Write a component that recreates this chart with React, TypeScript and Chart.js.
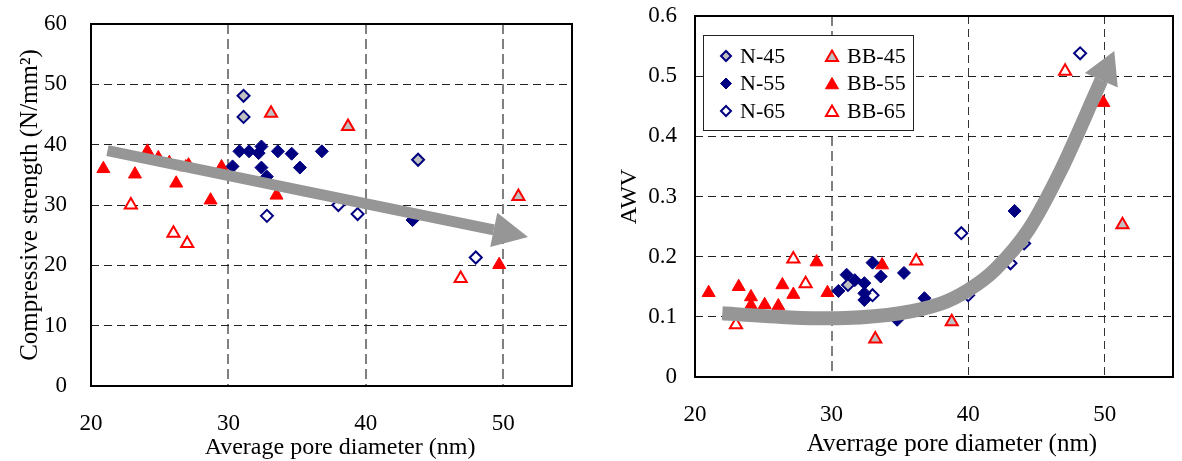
import React, { useEffect, useRef } from 'react';
import { Chart, registerables } from 'chart.js';

Chart.register(...registerables);

const FONT = "'Liberation Serif', 'Times New Roman', Times, serif";

// ---- axes ----
const X_MIN = 20;
const X_MAX = 55;
const X_TICKS = [20, 30, 40, 50];
const LEFT_Y_TICKS = [0, 10, 20, 30, 40, 50, 60];
const LEFT_Y_LABELS = ['0', '10', '20', '30', '40', '50', '60'];
const RIGHT_Y_TICKS = [0, 0.1, 0.2, 0.3, 0.4, 0.5, 0.6];
const RIGHT_Y_LABELS = ['0', '0.1', '0.2', '0.3', '0.4', '0.5', '0.6'];

const SERIES_NAMES = ['N-45', 'N-55', 'N-65', 'BB-45', 'BB-55', 'BB-65'];

// ---- left chart: compressive strength ----
const N45_L_X = [31.1, 31.1, 43.8];
const N45_L_Y = [48.1, 44.6, 37.5];
const N55_L_X = [30.3, 30.8, 31.5, 32.2, 32.4, 32.4, 32.8, 33.6, 34.6, 35.2, 36.8, 43.4];
const N55_L_Y = [36.4, 38.9, 38.9, 38.6, 39.7, 36.2, 34.7, 38.9, 38.5, 36.2, 38.9, 27.5];
const N65_L_X = [32.8, 38.0, 39.4, 48.0];
const N65_L_Y = [28.2, 30.0, 28.5, 21.3];
const BB45_L_X = [33.1, 38.7, 51.1];
const BB45_L_Y = [45.2, 43.0, 31.4];
const BB55_L_X = [20.9, 23.2, 24.1, 24.9, 25.7, 26.2, 26.9, 27.1, 28.7, 29.5, 33.5, 49.7];
const BB55_L_Y = [36.0, 35.1, 38.9, 37.8, 37.0, 33.6, 36.3, 36.6, 30.8, 36.3, 31.6, 20.1];
const BB65_L_X = [22.9, 26.0, 27.0, 46.9];
const BB65_L_Y = [30.0, 25.3, 23.6, 17.8];
const LEFT_ARROW_X = [21.2, 51.8];
const LEFT_ARROW_Y = [39.0, 24.7];

// ---- right chart: AWV ----
const N45_R_X = [31.2, 44.1];
const N45_R_Y = [0.153, 0.222];
const N55_R_X = [30.5, 31.1, 31.7, 32.4, 33.0, 33.6, 32.4, 32.4, 35.3, 36.8, 34.8, 43.4];
const N55_R_Y = [0.143, 0.170, 0.161, 0.156, 0.190, 0.167, 0.139, 0.128, 0.173, 0.131, 0.095, 0.276];
const N65_R_X = [33.0, 39.5, 40.0, 43.1, 48.2];
const N65_R_Y = [0.136, 0.239, 0.136, 0.189, 0.538];
const BB45_R_X = [33.2, 38.8, 51.3];
const BB45_R_Y = [0.063, 0.092, 0.253];
const BB55_R_X = [21.0, 23.2, 24.1, 24.1, 25.1, 26.1, 26.4, 27.2, 28.9, 29.7, 33.7, 49.9];
const BB55_R_Y = [0.140, 0.150, 0.133, 0.119, 0.120, 0.118, 0.153, 0.137, 0.191, 0.140, 0.186, 0.456];
const BB65_R_X = [23.0, 27.2, 28.1, 36.2, 47.1];
const BB65_R_Y = [0.087, 0.196, 0.155, 0.193, 0.508];
const RIGHT_ARROW_X = [22.0, 27.0, 31.0, 35.0, 38.0, 40.05, 42.0, 44.4, 46.8, 49.2, 50.7];
const RIGHT_ARROW_Y = [0.106, 0.099, 0.098, 0.106, 0.122, 0.145, 0.179, 0.244, 0.344, 0.465, 0.542];

// ---- styles ----
const NAVY = '#000080';
const RED = '#FF0000';
const GREY = '#C0C0C0';
const ARROW = '#969696';
const STYLES: Record<string, any> = {
  'N-45': { pointStyle: 'rectRot', bg: GREY, border: NAVY, bw: 2, r: 6, lr: 5 },
  'N-55': { pointStyle: 'rectRot', bg: NAVY, border: NAVY, bw: 1, r: 6.5, lr: 5.5 },
  'N-65': { pointStyle: 'rectRot', bg: '#FFFFFF', border: NAVY, bw: 2, r: 6, lr: 5 },
  'BB-45': { pointStyle: 'triangle', bg: GREY, border: RED, bw: 2, r: 7, lr: 7 },
  'BB-55': { pointStyle: 'triangle', bg: RED, border: RED, bw: 1, r: 7.5, lr: 7.5 },
  'BB-65': { pointStyle: 'triangle', bg: '#FFFFFF', border: RED, bw: 2, r: 7, lr: 7 },
};

const zip = (xs: number[], ys: number[]) => xs.map((x, i) => ({ x, y: ys[i] }));

function buildDatasets(pairs: [number[], number[]][]) {
  return SERIES_NAMES.map((name, i) => {
    const s = STYLES[name];
    return {
      label: name,
      data: zip(pairs[i][0], pairs[i][1]),
      pointStyle: s.pointStyle,
      backgroundColor: s.bg,
      borderColor: s.border,
      borderWidth: s.bw,
      pointRadius: s.r,
      pointHoverRadius: s.r,
    };
  });
}

function drawMarker(ctx: CanvasRenderingContext2D, style: string, x: number, y: number, r: number, bg: string, border: string, bw: number) {
  ctx.save();
  ctx.beginPath();
  if (style === 'rectRot') {
    ctx.moveTo(x - r, y);
    ctx.lineTo(x, y - r);
    ctx.lineTo(x + r, y);
    ctx.lineTo(x, y + r);
  } else {
    for (let k = 0; k < 3; k++) {
      const a = (k * 2 * Math.PI) / 3;
      const px = x + Math.sin(a) * r;
      const py = y - Math.cos(a) * r;
      if (k === 0) ctx.moveTo(px, py);
      else ctx.lineTo(px, py);
    }
  }
  ctx.closePath();
  ctx.fillStyle = bg;
  ctx.fill();
  ctx.lineWidth = bw;
  ctx.strokeStyle = border;
  ctx.stroke();
  ctx.restore();
}

function drawArrow(ctx: CanvasRenderingContext2D, pts: { x: number; y: number }[], shaftW: number, headLen: number, headW: number) {
  const tip = pts[pts.length - 1];
  const prev = pts[pts.length - 2];
  let dx = tip.x - prev.x;
  let dy = tip.y - prev.y;
  const len = Math.hypot(dx, dy);
  dx /= len;
  dy /= len;
  const base = { x: tip.x - dx * headLen, y: tip.y - dy * headLen };
  const shaft = pts.slice(0, -1).concat([base]);
  ctx.save();
  ctx.strokeStyle = ARROW;
  ctx.fillStyle = ARROW;
  ctx.lineWidth = shaftW;
  ctx.lineCap = 'butt';
  ctx.lineJoin = 'round';
  ctx.beginPath();
  ctx.moveTo(shaft[0].x, shaft[0].y);
  for (let i = 0; i < shaft.length - 1; i++) {
    const p0 = shaft[i - 1] || shaft[i];
    const p1 = shaft[i];
    const p2 = shaft[i + 1];
    const p3 = shaft[i + 2] || p2;
    ctx.bezierCurveTo(
      p1.x + (p2.x - p0.x) / 6, p1.y + (p2.y - p0.y) / 6,
      p2.x - (p3.x - p1.x) / 6, p2.y - (p3.y - p1.y) / 6,
      p2.x, p2.y
    );
  }
  ctx.stroke();
  const nx = -dy;
  const ny = dx;
  ctx.beginPath();
  ctx.moveTo(tip.x, tip.y);
  ctx.lineTo(base.x + (nx * headW) / 2, base.y + (ny * headW) / 2);
  ctx.lineTo(base.x - (nx * headW) / 2, base.y - (ny * headW) / 2);
  ctx.closePath();
  ctx.fill();
  ctx.restore();
}

function makePlugin(o: {
  arrowX: number[];
  arrowY: number[];
  shaftW: number;
  headLen: number;
  headW: number;
  legend: boolean;
  xTitle: string;
  xTitleX: number;
  xTitleY: number;
  xTitleSize: number;
}) {
  return {
    id: 'decor',
    afterDatasetsDraw(chart: any) {
      const { ctx, chartArea, scales } = chart;
      const pts = o.arrowX.map((v, i) => ({ x: scales.x.getPixelForValue(v), y: scales.y.getPixelForValue(o.arrowY[i]) }));
      drawArrow(ctx, pts, o.shaftW, o.headLen, o.headW);
      // frame
      ctx.save();
      ctx.strokeStyle = '#000';
      ctx.lineWidth = 2;
      ctx.strokeRect(chartArea.left, chartArea.top, chartArea.right - chartArea.left, chartArea.bottom - chartArea.top);
      ctx.restore();
      // x-axis title
      ctx.save();
      ctx.font = `${o.xTitleSize}px ${FONT}`;
      ctx.fillStyle = '#000';
      ctx.textAlign = 'center';
      ctx.textBaseline = 'middle';
      ctx.fillText(o.xTitle, o.xTitleX, o.xTitleY);
      ctx.restore();
      if (o.legend) {
        const bx = chartArea.left + 8;
        const by = chartArea.top + 19;
        const bw = 210;
        const bh = 95;
        ctx.save();
        ctx.fillStyle = '#FFFFFF';
        ctx.fillRect(bx, by, bw, bh);
        ctx.strokeStyle = '#222';
        ctx.lineWidth = 1;
        ctx.strokeRect(bx + 0.5, by + 0.5, bw, bh);
        ctx.font = `22px ${FONT}`;
        ctx.fillStyle = '#000';
        ctx.textBaseline = 'middle';
        ctx.textAlign = 'left';
        SERIES_NAMES.forEach((name, i) => {
          const col = Math.floor(i / 3);
          const row = i % 3;
          const cy = by + 21 + row * 27.5;
          const mx = bx + (col === 0 ? 23 : 129);
          const tx = bx + (col === 0 ? 37 : 144);
          const s = STYLES[name];
          const my = s.pointStyle === 'triangle' ? cy + 1.5 : cy;
          drawMarker(ctx, s.pointStyle, mx, my, s.lr, s.bg, s.border, s.bw);
          ctx.fillText(name, tx, cy + 1);
        });
        ctx.restore();
      }
    },
  };
}

function makeConfig(p: {
  datasets: any[];
  yTicks: number[];
  yLabels: string[];
  yMax: number;
  yWidth: number;
  xHeight: number;
  padTop: number;
  padRight: number;
  yTickPad: number;
  yTitle: string;
  yTitlePad: number;
  yTitleSize: number;
  vGridColor: (v: number) => string;
  vGridWidth: (v: number) => number;
  vDash: (v: number) => number[];
  hDash: number[];
  hColor: string;
  plugin: any;
}) {
  return {
    type: 'scatter',
    data: { datasets: p.datasets },
    options: {
      responsive: false,
      animation: false,
      events: [],
      layout: { padding: { left: 0, top: p.padTop, right: p.padRight, bottom: 0 } },
      plugins: { legend: { display: false }, tooltip: { enabled: false } },
      scales: {
        x: {
          type: 'linear',
          min: X_MIN,
          max: X_MAX,
          afterBuildTicks: (s: any) => {
            s.ticks = X_TICKS.map((v) => ({ value: v }));
          },
          afterFit: (s: any) => {
            s.height = p.xHeight;
            s.paddingLeft = 0;
            s.paddingRight = 0;
          },
          ticks: {
            font: { family: FONT, size: 23 },
            color: '#000',
            padding: 24,
            maxRotation: 0,
            autoSkip: false,
            callback: (v: any) => String(v),
          },
          grid: {
            drawTicks: false,
            color: (c: any) => p.vGridColor(c.tick ? c.tick.value : 0),
            lineWidth: (c: any) => p.vGridWidth(c.tick ? c.tick.value : 0),
          },
          border: {
            display: false,
            dash: (c: any) => p.vDash(c.tick ? c.tick.value : 0),
          },
          title: { display: false },
        },
        y: {
          type: 'linear',
          min: 0,
          max: p.yMax,
          afterBuildTicks: (s: any) => {
            s.ticks = p.yTicks.map((v) => ({ value: v }));
          },
          afterFit: (s: any) => {
            s.width = p.yWidth;
            s.paddingTop = 0;
            s.paddingBottom = 0;
          },
          ticks: {
            font: { family: FONT, size: 23 },
            color: '#000',
            padding: p.yTickPad,
            callback: (_v: any, i: number) => p.yLabels[i],
          },
          grid: {
            drawTicks: false,
            color: p.hColor,
            lineWidth: 1,
          },
          border: { display: false, dash: p.hDash },
          title: {
            display: true,
            text: p.yTitle,
            color: '#000',
            font: { family: FONT, size: p.yTitleSize, lineHeight: 1 },
            padding: { top: p.yTitlePad, bottom: 0 },
          },
        },
      },
    },
    plugins: [p.plugin],
  } as any;
}

function ChartCanvas({ config, width, height, left }: { config: () => any; width: number; height: number; left: number }) {
  const ref = useRef<HTMLCanvasElement | null>(null);
  useEffect(() => {
    if (!ref.current) return;
    const chart = new Chart(ref.current, config());
    return () => chart.destroy();
  }, []);
  return (
    <canvas
      ref={ref}
      width={width}
      height={height}
      style={{ position: 'absolute', left, top: 0, width, height }}
    />
  );
}

export default function App() {
  const leftConfig = () =>
    makeConfig({
      datasets: buildDatasets([
        [N45_L_X, N45_L_Y],
        [N55_L_X, N55_L_Y],
        [N65_L_X, N65_L_Y],
        [BB45_L_X, BB45_L_Y],
        [BB55_L_X, BB55_L_Y],
        [BB65_L_X, BB65_L_Y],
      ]),
      yTicks: LEFT_Y_TICKS,
      yLabels: LEFT_Y_LABELS,
      yMax: 60,
      yWidth: 91,
      xHeight: 75,
      padTop: 24,
      padRight: 18,
      yTickPad: 24,
      yTitle: 'Compressive strength (N/mm\u00B2)',
      yTitlePad: 18,
      yTitleSize: 25,
      vGridColor: () => '#808080',
      vGridWidth: () => 2,
      vDash: () => [10, 5],
      hDash: [8, 5],
      hColor: '#222',
      plugin: makePlugin({
        arrowX: LEFT_ARROW_X,
        arrowY: LEFT_ARROW_Y,
        shaftW: 11,
        headLen: 35,
        headW: 35,
        legend: false,
        xTitle: 'Average pore diameter (nm)',
        xTitleX: 340,
        xTitleY: 448,
        xTitleSize: 24,
      }),
    });

  const rightConfig = () =>
    makeConfig({
      datasets: buildDatasets([
        [N45_R_X, N45_R_Y],
        [N55_R_X, N55_R_Y],
        [N65_R_X, N65_R_Y],
        [BB45_R_X, BB45_R_Y],
        [BB55_R_X, BB55_R_Y],
        [BB65_R_X, BB65_R_Y],
      ]),
      yTicks: RIGHT_Y_TICKS,
      yLabels: RIGHT_Y_LABELS,
      yMax: 0.6,
      yWidth: 105,
      xHeight: 84,
      padTop: 16,
      padRight: 1,
      yTickPad: 18,
      yTitle: 'AWV',
      yTitlePad: 28,
      yTitleSize: 24,
      vGridColor: (v) => (v === 30 ? '#808080' : '#333'),
      vGridWidth: (v) => (v === 30 ? 2 : 1),
      vDash: (v) => (v === 30 ? [10, 5] : [8, 5]),
      hDash: [8, 5],
      hColor: '#222',
      plugin: makePlugin({
        arrowX: RIGHT_ARROW_X,
        arrowY: RIGHT_ARROW_Y,
        shaftW: 14,
        headLen: 32,
        headW: 36,
        legend: true,
        xTitle: 'Averrage pore diameter (nm)',
        xTitleX: 362,
        xTitleY: 444,
        xTitleSize: 25,
      }),
    });

  return (
    <div style={{ position: 'fixed', left: 0, top: 0, width: 1182, height: 461, background: '#fff', overflow: 'hidden' }}>
      <ChartCanvas config={leftConfig} width={590} height={461} left={0} />
      <ChartCanvas config={rightConfig} width={592} height={461} left={590} />
    </div>
  );
}
